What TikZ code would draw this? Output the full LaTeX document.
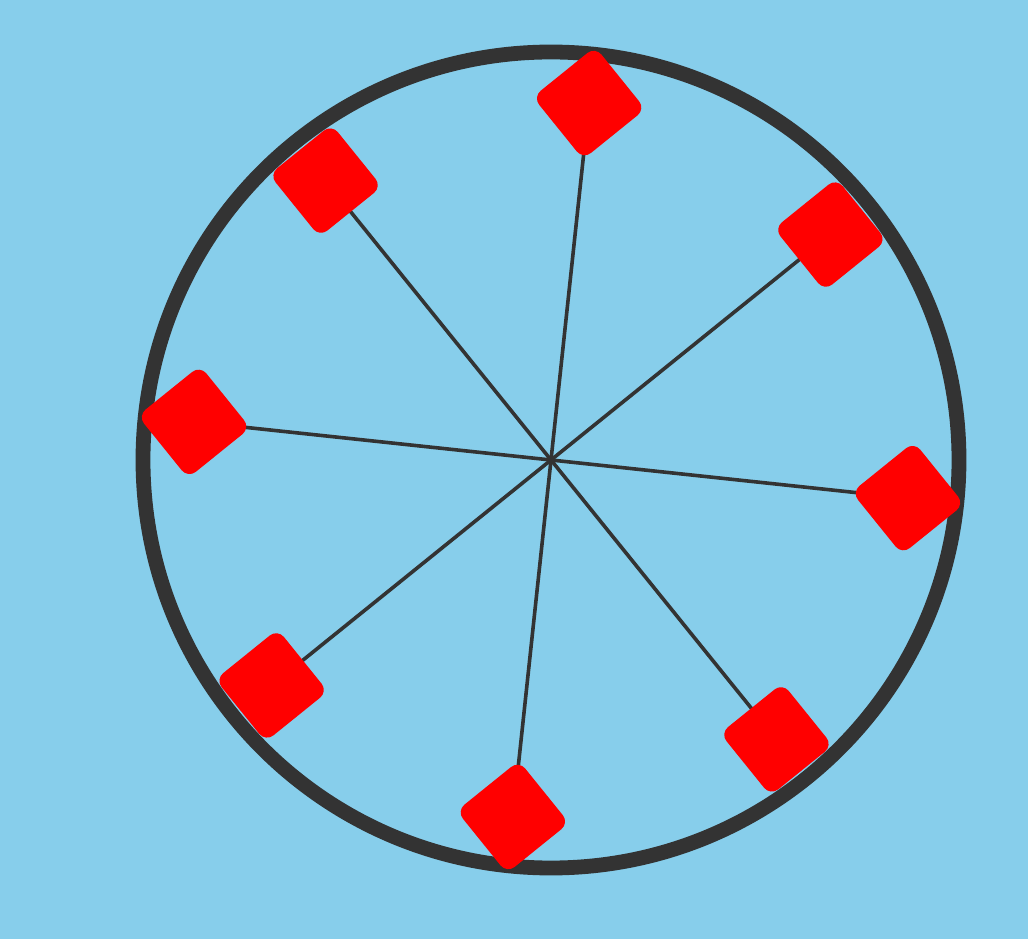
\documentclass[tikz,border=0pt]{standalone}
\usepackage{xcolor}
\usepackage{tikz}
\usetikzlibrary{positioning}
\definecolor{skyback}{RGB}{135,206,235}
\definecolor{rimgray}{RGB}{51,51,51}
\tikzset{
  pad/.style={fill=red,draw=none,minimum size=2.0cm,inner sep=0pt,rounded corners=0.25cm,rotate=38.9},
  spoke/.style={draw=rimgray,line width=0.09cm},
}

\begin{document}
\begin{tikzpicture}
  \def\R{10.2}
  \def\r{8.975}
  \fill[skyback] (-13.775,-11.975) rectangle (11.925,11.5);
  \useasboundingbox (-13.775,-11.975) rectangle (11.925,11.5);
  \coordinate (hub) at (0,0);
  \draw[rimgray,line width=0.37cm] (hub) circle (\R);
  \foreach \i in {0,...,7} {
    \pgfmathsetmacro{\a}{83.9+45*\i}
    \coordinate (c\i) at (\a:\r);
    \draw[spoke] (hub) -- (c\i);
  }
  \foreach \i in {0,...,7}
    \node[pad] (p\i) at (c\i) {};
\end{tikzpicture}
\end{document}
